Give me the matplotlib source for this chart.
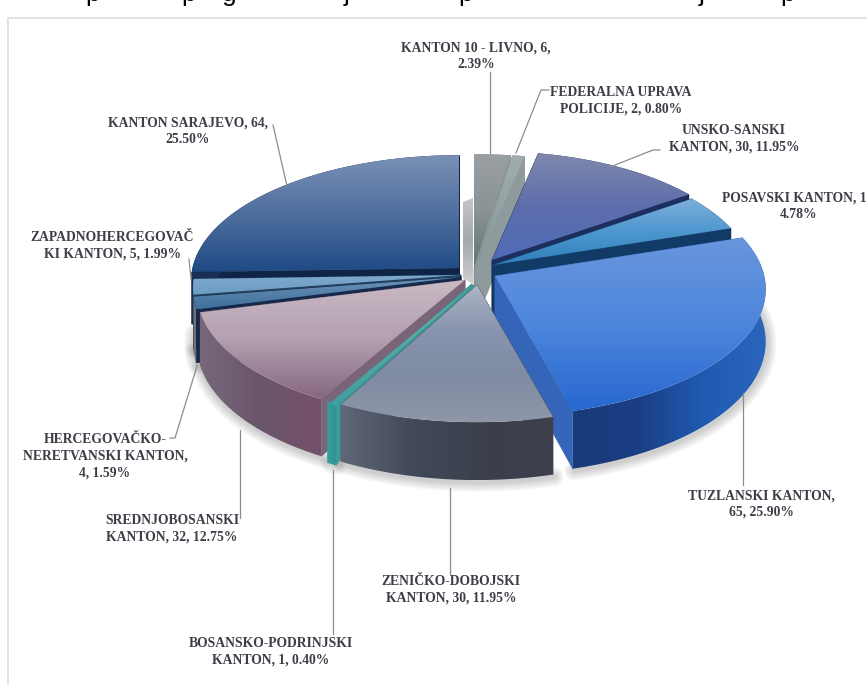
import numpy as np
import matplotlib
matplotlib.use("Agg")
import matplotlib.pyplot as plt
from matplotlib.colors import LinearSegmentedColormap
from matplotlib.patches import Polygon

# data, clockwise from 12 o'clock
kantoni = ["Livno", "Federalna", "Unsko", "Posavski", "Tuzla", "Zenica",
           "Podrinje", "Srednja", "Neretva", "Zapadna", "Sarajevo"]
counts = [6, 2, 30, 12, 65, 30, 1, 32, 4, 5, 64]
labels = [
    "KANTON 10 - LIVNO, 6,\n2.39%",
    "FEDERALNA UPRAVA\nPOLICIJE, 2, 0.80%",
    "UNSKO-SANSKI\nKANTON, 30, 11.95%",
    "POSAVSKI KANTON, 12,\n4.78%",
    "TUZLANSKI KANTON,\n65, 25.90%",
    "ZENIČKO-DOBOJSKI\nKANTON, 30, 11.95%",
    "BOSANSKO-PODRINJSKI\nKANTON, 1, 0.40%",
    "SREDNJOBOSANSKI\nKANTON, 32, 12.75%",
    "HERCEGOVAČKO-\nNERETVANSKI KANTON,\n4, 1.59%",
    "ZAPADNOHERCEGOVAČ\nKI KANTON, 5, 1.99%",
    "KANTON SARAJEVO, 64,\n25.50%",
]

# label centres in pixels
label_xy = [(476, 56), (621, 101), (734, 139), (799, 206), (761, 504), (451, 590),
            (271, 652), (172, 529), (105, 456), (112, 246), (188, 131)]
leaders = [
    [(490, 72), (490, 153)],
    [(549, 90), (541, 90), (516, 153)],
    [(660, 150), (653, 150), (610, 167)],
    [],
    [(743, 485), (743, 393)],
    [(450, 574), (450, 488)],
    [(333, 634), (333, 470)],
    [(240, 518), (240, 430)],
    [(170, 438), (175, 438), (197, 366)],
    [(189, 259), (191, 279)],
    [(273, 125), (287, 186)],
]

# pie geometry
RX, RY, K = 272, 127, 0.105
DEPTH = 52
# where each exploded slice has its point, and how far its rim reaches
tip_xy = [(474, 268), (476, 268), (492, 260), (493, 265), (495, 276), (477, 285),
          (473, 285), (465, 280), (461, 277), (461, 275), (459, 268)]
reach = [0.99, 0.99, 0.94, 0.95, 0.99, 0.97, 0.98, 0.98, 0.98, 0.98, 0.98]
stroke = [0, 0, 0, 0, 0, 0, 3, 0, 0, 0, 0]
draw_order = [0, 1, 10, 2, 3, 9, 8, 4, 7, 6, 5]

# colours: top surface back->front, outer wall left->right, cut wall
top_cols = [
    ["#9a9fa3", "#8b9396", "#5f7372"],
    ["#a3acae", "#7f9a9a"],
    ["#7f88ab", "#5d6dac", "#4f6cb8"],
    ["#7fb0dc", "#4d97cf", "#2f7fb8"],
    ["#6a96dc", "#4d86dc", "#2767cf"],
    ["#aeb7c6", "#8893ad", "#7f8ba3", "#8e97a8"],
    ["#6fb2ae", "#3f9f9f"],
    ["#c9bac4", "#b3a0b0", "#86677f"],
    ["#6d94b8", "#3f6f9c"],
    ["#7fa8cc", "#6c9cc4"],
    ["#7a90b4", "#4f6f9f", "#1f4a84"],
]
wall_cols = [
    ["#8b9396", "#8b9396"],
    ["#8f9a9c", "#8f9a9c"],
    ["#1c2f5f", "#1c2f5f"],
    ["#123a66", "#123a66"],
    ["#1a3a78", "#1a3e84", "#1f5ab0", "#2a66bc"],
    ["#5f6778", "#41495a", "#3b404c", "#3e3f4e"],
    ["#35a09e", "#2f8f90"],
    ["#78677c", "#6a566c", "#74506a"],
    ["#6d7278", "#6d7278"],
    ["#6d7278", "#6d7278"],
    ["#1a2f55", "#1a2f55"],
]
cut_cols = ["#8b9396", "#8f9a9c", "#1c2f5f", "#123a66", "#3565b8", "#454b5c",
            "#3c9a98", "#7a6478", "#16294a", "#22405f", "#0f2547"]

plt.rcParams["font.family"] = ["Liberation Serif", "DejaVu Serif"]

fig = plt.figure(figsize=(8.67, 6.85), dpi=100)
ax = fig.add_axes([0, 0, 1, 1])
ax.set_xlim(0, 867)
ax.set_ylim(685, 0)
ax.axis("off")


def project(theta, r, tip, depth=0.0):
    u, v = r * np.sin(theta), r * np.cos(theta)
    w = 1 + K * v
    return np.column_stack([tip[0] + RX * u / w, tip[1] - RY * v / w + depth / w])


def gradient_poly(pts, colors, z, vertical=True):
    poly = Polygon(pts, closed=True, fc="none", ec="none", transform=ax.transData, zorder=z)
    ax.add_patch(poly)
    cmap = LinearSegmentedColormap.from_list("c", colors)
    grad = np.linspace(0, 1, 256)
    grad = grad[:, None] if vertical else grad[None, :]
    x0, y0 = pts.min(axis=0)
    x1, y1 = pts.max(axis=0)
    im = ax.imshow(grad, cmap=cmap, extent=(x0, x1, y1, y0), aspect="auto",
                   interpolation="bilinear", zorder=z)
    im.set_clip_path(poly)


# frame of the pasted chart, plus the cropped line of text above it
ax.plot([8, 8, 867], [685, 18, 18], color="#dedede", lw=1.2, zorder=0)
for ch, x in zip("ppgjpjp", [93, 189, 229, 347, 466, 702, 788]):
    ax.text(x, 1, ch, family="Liberation Sans", fontsize=19, color="black", ha="center", va="baseline")

edges = np.cumsum([0] + counts) / sum(counts) * 2 * np.pi
mids = (edges[:-1] + edges[1:]) / 2

# soft shadow under the front of the pie
for i, tip in enumerate(tip_xy):
    th = np.linspace(edges[i], edges[i + 1], 60)
    if np.cos(mids[i]) > 0.3:
        continue
    rim = project(th, reach[i], tip, DEPTH)
    for lw in range(2, 16, 2):
        ax.plot(rim[:, 0] + 1, rim[:, 1] + 2, color="#303030", lw=lw, alpha=0.035, zorder=1,
                solid_capstyle="round")

# grey sliver showing through the gap behind the centre
lx, ly = tip_xy[0]
gradient_poly(np.array([(lx - 11, ly - 66), (lx - 1, ly - 70), (lx - 1, ly + 16), (lx - 11, ly + 10)]),
              ["#c4c6c8", "#a4a8aa", "#d0d0d0"], 2)

z = 3
for i in draw_order:
    tip = tip_xy[i]
    th = np.linspace(edges[i], edges[i + 1], 60)
    top = project(th, reach[i], tip)
    bottom = project(th, reach[i], tip, DEPTH)
    tip_bot = np.array([[tip[0], tip[1] + DEPTH]])
    tip_top = np.array([tip])
    # cut walls
    for j in (0, -1):
        wall = np.vstack([tip_top, top[[j]], bottom[[j]], tip_bot])
        ax.add_patch(Polygon(wall, closed=True, fc=cut_cols[i], ec=cut_cols[i], lw=0.5, zorder=z))
    z += 1
    if stroke[i]:
        outline = np.vstack([tip_top, top, bottom[::-1]])
        ax.add_patch(Polygon(outline, closed=True, fc=cut_cols[i], ec=cut_cols[i], lw=stroke[i], zorder=z))
        z += 1
    gradient_poly(np.vstack([top, bottom[::-1]]), wall_cols[i], z, vertical=False)
    z += 1
    gradient_poly(np.vstack([tip_top, top]), top_cols[i], z)
    z += 1

for pts in leaders:
    if pts:
        xs, ys = zip(*pts)
        ax.plot(xs, ys, color="#8c8c8c", lw=0.9, zorder=z)

for txt, (x, y) in zip(labels, label_xy):
    ax.text(x, y, txt, ha="center", va="center", fontsize=9.8, fontweight="bold",
            color="#3c3f48", linespacing=1.38, zorder=z + 1)

fig.savefig("out.png", dpi=100)
